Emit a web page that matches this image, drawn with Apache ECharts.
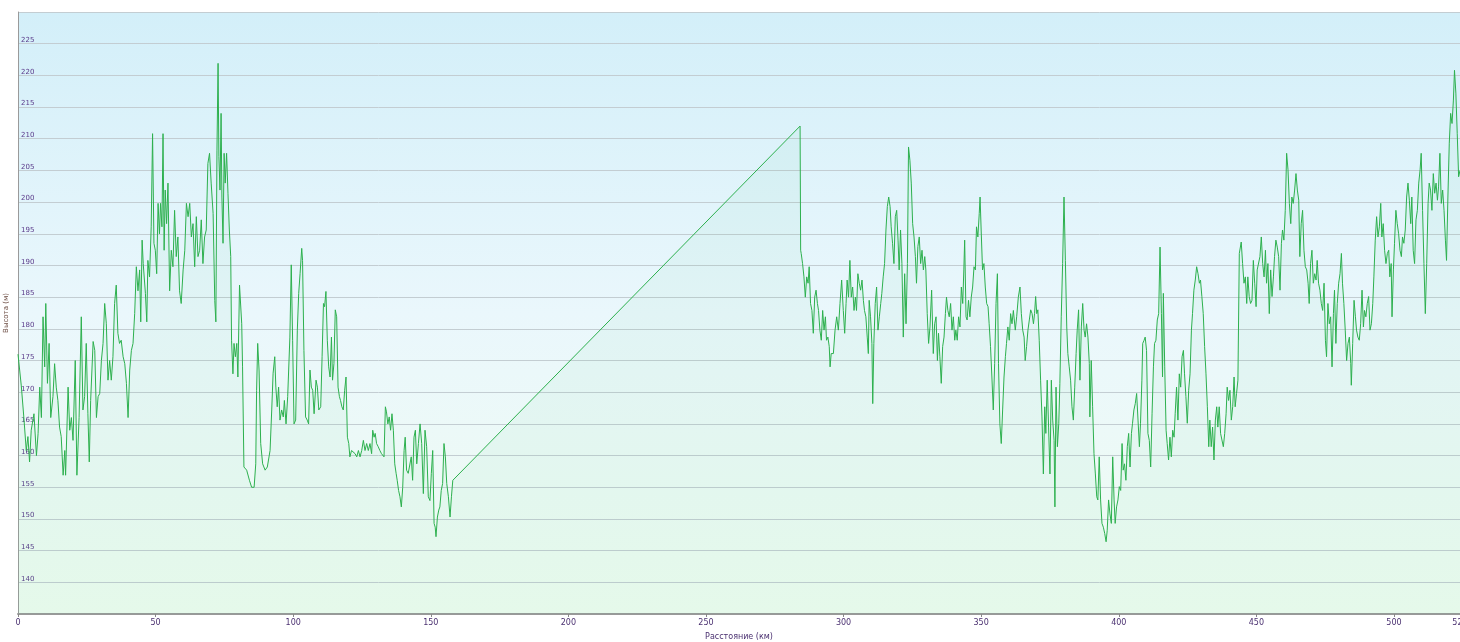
<!DOCTYPE html>
<html>
<head>
<meta charset="utf-8">
<script src="https://cdn.jsdelivr.net/npm/echarts@6/dist/echarts.min.js"></script>
<style>html,body{margin:0;padding:0;background:#fff}#c{width:1460px;height:642px}</style>
</head>
<body>
<div id="c"></div>
<script>
// Elevation profile: [distance km, elevation m]
const seg1 = [[0,176],[1.2,171],[2.2,165.6],[3.0,160.8],[3.6,163],[4.2,159],[4.8,164],[5.8,166.6],[6.7,160],[7.3,163.5],[7.9,170.8],[8.5,166],[9.1,181.9],[9.7,174],[10.1,184],[10.7,171.4],[11.3,177.7],[11.9,166],[12.7,169.3],[13.3,174.5],[13.9,170.8],[14.5,168.7],[15.1,164.5],[15.7,163],[16.4,156.9],[17.0,160.8],[17.3,156.9],[18.2,170.8],[18.8,164],[19.4,166],[20.0,162.4],[20.8,175],[21.4,156.9],[22.2,166],[23.0,181.9],[23.6,167.2],[24.2,169.3],[24.8,177.7],[25.4,166.6],[25.9,159],[26.4,168.7],[27.3,178],[27.9,176.6],[28.5,166],[29.1,169.3],[29.7,169.8],[30.3,175],[30.9,177.7],[31.5,184],[32.1,180.8],[32.7,171.9],[33.3,175],[33.9,171.9],[34.5,175.6],[35.1,184],[35.7,186.9],[36.3,179.3],[36.9,177.7],[37.5,178.2],[38.2,175.6],[38.8,174.5],[39.4,171.4],[40.0,166],[40.6,173.5],[41.2,176.6],[41.8,177.7],[42.4,182.4],[43.0,189.8],[43.6,186],[44.2,189.3],[44.6,181.1],[45.1,194],[45.5,190.3],[46.3,185.6],[46.8,181.1],[47.2,190.8],[47.8,188.2],[48.4,196.1],[48.9,210.8],[49.4,193.5],[49.9,192.4],[50.4,188.7],[50.9,199.8],[51.4,195],[51.8,199.8],[52.3,196.1],[52.7,210.8],[53.1,192.4],[53.5,201.9],[54.0,196.6],[54.5,203],[55.1,186],[55.7,192.4],[56.3,189.8],[56.9,198.7],[57.5,191.4],[58.1,194.5],[58.7,186],[59.3,184],[60.0,189.3],[60.6,192.4],[61.2,199.8],[61.8,197.7],[62.4,199.8],[63.0,194.5],[63.6,196.6],[64.2,189.8],[64.8,197.7],[65.4,191.4],[66.0,192.4],[66.6,197.2],[67.2,190.3],[67.8,194.5],[68.4,195.6],[69.0,206.1],[69.6,207.7],[70.2,203],[70.9,198.2],[71.5,184.5],[71.9,181.1],[72.3,208.2],[72.7,221.9],[73.0,207.2],[73.4,201.9],[73.8,214],[74.1,200.8],[74.5,193.5],[74.9,207.7],[75.3,203],[75.8,207.7],[76.3,201.4],[76.8,195.6],[77.3,191.4],[77.6,178.2],[78.1,172.9],[78.5,177.7],[79.0,175.6],[79.5,177.7],[79.9,172.4],[80.5,186.9]];
const seg2 = [[81.3,180.8],[81.6,174],[82.1,158.2],[83.1,157.7],[84.1,156.1],[84.9,155],[85.8,155],[86.4,158.7],[86.7,170.3],[87.1,177.7],[87.6,173.5],[88.2,161.9],[88.9,158.7],[89.8,157.7],[90.6,158.2],[91.6,160.8],[92.2,167.2],[92.7,173],[93.3,175.6],[93.7,170.8],[94.2,167.7],[94.7,170.8],[95.2,165.6],[95.8,167.2],[96.4,166.1],[96.8,168.7],[97.4,165],[98.0,169.3],[98.8,178.7],[99.3,190.1],[99.8,178.2],[100.3,165],[100.9,165.6],[101.5,179.8],[102.0,185.6],[102.5,188.7],[103.1,192.7],[103.4,190.8],[103.9,176.6],[104.5,166.1],[105.1,165.6],[105.6,165],[106.1,173.5],[106.6,170.8],[107.1,170.3],[107.6,166.6],[108.3,171.9],[108.8,170.8],[109.3,167.2],[110.0,167.7],[110.5,175.6],[111.0,184],[111.4,183.5],[111.9,185.9],[112.4,178.2],[112.9,174],[113.4,172.4],[113.9,178.7],[114.3,171.9],[114.8,174.5],[115.3,183],[115.8,181.9],[116.3,170.8],[116.8,169.3],[117.2,168.7],[117.7,167.7],[118.2,167.2],[118.7,170.3],[119.2,172.4],[119.7,162.9],[120.2,161.9],[120.6,159.8],[121.2,160.8],[121.8,160.8],[122.5,160.3],[123.1,159.8],[123.7,160.8],[124.3,159.8],[124.9,160.8],[125.5,162.4],[126.1,160.8],[126.7,161.9],[127.3,160.8],[127.9,161.9],[128.5,160.3],[128.9,164],[129.4,162.9],[129.8,163.5],[130.3,161.9],[130.9,161.4],[131.5,160.8],[132.1,160.3],[133.0,159.8],[133.5,167.7],[133.9,166.9],[134.4,165],[134.9,166.1],[135.4,164],[135.9,166.6],[136.4,164],[136.9,158.7],[137.4,157.2],[137.8,156.1],[138.3,154.5],[138.8,153.5],[139.3,151.9],[139.8,155],[140.3,160.8],[140.7,162.9],[141.2,157.7],[141.8,157.2],[142.4,157.2],[142.9,159.8],[143.4,156.1],[143.9,162.9],[144.4,164],[144.9,158.7],[145.5,161.9],[146.1,165],[146.7,161.9],[147.3,154],[147.9,164],[148.5,161.4],[149.1,153.5],[149.7,152.9],[150.2,157.2],[150.7,160.8],[151.2,149.3],[151.6,148.7],[151.9,147.2],[152.4,150.3],[152.9,151.4],[153.3,151.9],[153.8,154.5],[154.3,155.6],[154.8,161.9],[155.3,159.8],[155.8,155.6],[156.4,153.5],[157.0,150.3],[157.5,153.5],[158.0,156.1]];
const seg3 = [[284.2,212],[284.4,192.4],[284.6,191.9],[285.1,190.3],[285.6,188.2],[286.1,185],[286.6,188.2],[287.1,187.2],[287.5,189.8],[288.0,184],[288.5,182.9],[289.0,179.3],[289.5,185],[290.0,186.1],[290.5,184],[290.9,182.9],[291.4,179.8],[291.9,178.2],[292.4,182.9],[292.9,179.8],[293.4,181.9],[293.8,178.2],[294.3,178.7],[294.8,177.2],[295.1,174],[295.5,176.1],[296.3,176.1],[296.9,179.8],[297.5,181.9],[298.1,179.8],[298.7,184],[299.3,187.7],[299.9,182.9],[300.4,179.3],[300.9,184],[301.3,187.7],[301.8,185],[302.3,190.8],[302.8,185],[303.3,186.6],[303.8,182.9],[304.3,185],[304.7,182.9],[305.2,188.7],[305.7,187.2],[306.2,186.1],[306.7,187.7],[307.2,184.5],[307.6,182.9],[308.1,181.9],[308.6,178.7],[309.0,176.1],[309.3,184.5],[309.8,181.9],[310.3,177.7],[310.6,168.2],[311.0,177.7],[311.5,184],[312.0,186.6],[312.5,179.8],[313.0,181.9],[313.5,184],[313.9,185.6],[314.4,188.2],[314.9,190.3],[315.4,195.6],[315.9,199.3],[316.4,200.8],[316.9,199.3],[317.3,196.1],[317.8,193.5],[318.3,190.3],[318.8,197.7],[319.3,198.7],[319.8,194],[320.2,189.3],[320.7,195.6],[321.2,190.3],[321.7,178.7],[322.2,188.7],[322.7,180.8],[323.2,190.3],[323.6,208.7],[324.1,206.6],[324.6,203],[325.1,196.6],[325.6,194.5],[326.1,191.4],[326.5,187.2],[327.0,193],[327.5,194.5],[328.0,190.3],[328.5,192.4],[329.0,189.3],[329.5,191.4],[329.9,189.3],[330.4,182.4],[330.9,177.7],[331.4,180.3],[332.0,186.1],[332.6,176.1],[333.1,180.8],[333.6,181.9],[334.1,175],[334.5,179.3],[335.0,175.6],[335.5,171.4],[336.0,177.2],[336.5,178.7],[337.0,182.4],[337.4,185],[337.9,182.9],[338.4,181.9],[338.9,184],[339.4,179.8],[339.9,181.9],[340.4,178.2],[340.8,179.8],[341.3,178.2],[341.8,181.9],[342.3,180.3],[342.8,186.6],[343.3,184],[343.7,189.3],[344.0,194],[344.5,181.9],[344.9,181.4],[345.4,184.5],[345.9,181.9],[346.4,185],[346.9,186.6],[347.4,189.8],[347.9,189.3],[348.3,196.1],[348.8,194.5],[349.3,198.2],[349.6,200.8],[350.0,195.6],[350.5,189.3],[351.0,190.3],[351.5,186.6],[352.0,184],[352.5,183.5],[352.9,180.8],[353.4,177.2],[353.9,172.4],[354.4,167.2],[354.9,174.5],[355.4,184],[355.9,188.7],[356.3,174.5],[356.8,165],[357.3,161.9],[357.8,167.2],[358.3,172.4],[358.8,175.6],[359.2,177.7],[359.7,180.3],[360.2,178.2],[360.7,182.4],[361.2,180.8],[361.7,182.9],[362.4,179.8],[362.9,181.9],[363.5,185],[364.1,186.6]];
const seg4 = [[364.6,182.4],[365.1,179.8],[365.6,178.7],[366.0,175],[366.5,177.2],[367.0,179.8],[367.5,181.4],[368.0,183],[368.5,182.4],[369.0,180.8],[369.4,182.4],[369.8,185.1],[370.2,182.4],[370.6,183],[371.1,178.2],[371.6,171.9],[372.1,166.1],[372.6,157.1],[373.1,167.7],[373.5,163.5],[374.0,171.9],[374.5,164.5],[375.0,157.1],[375.5,171.9],[376.0,165.6],[376.5,162.4],[376.8,151.9],[377.2,170.8],[377.7,161.4],[378.2,165.1],[378.6,171.4],[379.1,181.9],[379.6,190.3],[380.1,200.8],[380.6,190.8],[381.1,180.3],[381.5,176.1],[382.0,174],[382.5,171.9],[383.0,167.7],[383.5,165.6],[384.0,170.8],[384.5,176.1],[384.9,179.8],[385.4,183],[385.9,171.9],[386.4,180.3],[386.9,184],[387.4,179.8],[387.8,178.7],[388.3,180.8],[388.8,178.7],[389.3,174.5],[389.5,166.1],[390.0,175],[390.5,167.7],[391.0,160.3],[391.5,157.1],[392.0,153.5],[392.4,153],[392.9,159.8],[393.4,153],[393.9,149.3],[394.4,148.7],[394.9,147.7],[395.4,146.4],[395.8,148.2],[396.3,153],[396.8,150.8],[397.3,149.3],[397.8,159.8],[398.3,153],[398.7,149.3],[399.2,151.9],[399.7,153],[400.2,155.1],[400.7,154.5],[401.2,161.9],[401.6,157.7],[402.1,158.7],[402.6,156.1],[403.1,161.4],[403.6,163.5],[404.1,158.2],[404.6,163.5],[405.0,165.1],[405.5,167.2],[406.0,168.2],[406.5,169.8],[407.0,165.6],[407.5,161.4],[407.9,165.1],[408.4,171.9],[408.7,177.7],[409.2,178.2],[409.6,178.7],[410.1,176.6],[410.6,163.5],[411.1,162.4],[411.6,158.2],[412.1,166.6],[412.6,174],[413.0,177.7],[413.5,178.2],[414.0,181.4],[414.5,182.4],[415.0,192.9],[415.5,182.4],[415.9,172.4],[416.2,185.6],[416.7,174],[417.2,164],[417.6,161.9],[418.1,159.3],[418.6,162.9],[419.1,159.8],[419.6,164],[420.1,162.9],[420.5,166.6],[421.0,170.8],[421.5,165.6],[422.0,172.9],[422.5,170.8],[423.0,175.6],[423.5,176.6],[423.9,172.9],[424.4,169.3],[424.9,165.1],[425.4,170.3],[425.9,172.9],[426.4,179.8],[426.8,182.4],[427.3,186.1],[427.8,187.7],[428.3,189.8],[428.8,188.7],[429.3,187.2],[429.7,187.7],[430.2,185.1],[430.7,182.4],[431.2,177.2],[431.7,172.9],[432.2,167.7],[432.7,161.4],[433.1,165.6],[433.6,161.4],[434.1,164.5],[434.6,159.3],[435.1,165.6],[435.6,167.7],[436.0,164.5],[436.5,167.7],[437.0,163.5],[437.5,163.5],[438.0,161.4],[438.5,163.5],[439.0,166.6],[439.4,170.8],[439.9,168.7],[440.4,170.3],[440.9,165.6],[441.4,167.7],[441.9,172.4],[442.3,167.7],[442.8,169.8],[443.3,171.9],[443.8,191.9]];
const seg5 = [[444.5,193.7],[445.0,190.3],[445.5,187.2],[446.0,188.2],[446.5,184],[446.9,188.2],[447.4,185.1],[447.9,184],[448.4,184.5],[448.9,190.8],[449.4,187.2],[449.9,183.5],[450.3,189.3],[450.8,189.3],[451.3,191.4],[451.8,194.5],[452.3,190.3],[452.8,188.2],[453.3,192.4],[453.7,187.2],[454.2,190.3],[454.7,182.4],[455.2,189.3],[455.7,185.1],[456.2,188.2],[456.6,191.4],[457.1,194],[457.6,192.9],[458.1,191.4],[458.6,186.1],[459.1,193.5],[459.5,195.6],[460.0,194],[460.5,198.7],[461.0,207.7],[461.5,205.1],[462.0,199.8],[462.5,196.6],[462.9,200.8],[463.4,199.8],[463.9,201.9],[464.4,204.5],[464.9,201.9],[465.4,200.3],[465.8,191.4],[466.3,196.6],[466.8,198.7],[467.3,192.4],[467.8,189.8],[468.3,189.3],[468.8,187.2],[469.2,184],[469.7,190.3],[470.2,192.4],[470.7,187.2],[471.2,188.7],[471.7,187.7],[472.1,190.8],[472.6,187.2],[473.1,186.1],[473.6,184],[474.1,182.9],[474.6,187.2],[475.1,178.2],[475.5,175.6],[476.0,184],[476.5,180.8],[477.0,181.9],[477.5,174],[478.0,182.4],[478.4,186.1],[478.9,177.7],[479.4,184],[479.9,187.2],[480.4,188.7],[480.9,191.9],[481.3,187.2],[481.8,184],[482.3,179.8],[482.8,175],[483.3,177.7],[483.8,178.7],[484.3,174.5],[484.5,171.1],[485.0,177.7],[485.5,184.5],[486.0,181.9],[486.4,179.8],[486.9,178.7],[487.4,178.2],[487.9,180.8],[488.4,186.1],[488.9,180.3],[489.3,182.9],[489.8,181.9],[490.3,184],[490.8,185.1],[491.3,179.8],[491.8,180.8],[492.3,184],[492.7,188.2],[493.2,194],[493.7,197.7],[494.2,194.5],[494.7,196.1],[495.2,199.8],[495.6,194.5],[496.1,196.6],[496.6,192.4],[497.1,190.3],[497.6,191.9],[498.1,192.4],[498.5,188.2],[499.0,190.3],[499.3,181.9],[499.8,189.3],[500.2,193.5],[500.7,198.7],[501.2,196.6],[501.7,195],[502.2,192.4],[502.7,191.4],[503.1,194.5],[503.6,193.5],[504.1,195.6],[504.6,200.8],[505.1,203],[505.6,200.3],[506.1,196.6],[506.5,200.8],[507.0,192.4],[507.5,190.3],[508.0,197.2],[508.5,198.7],[509.0,203],[509.5,205.1],[509.9,207.7],[510.4,198.7],[510.9,190.3],[511.4,182.4],[511.9,190.3],[512.4,199.8],[512.8,203],[513.3,201.9],[513.8,198.7],[514.3,204.5],[514.8,201.4],[515.3,203],[515.8,200.3],[516.2,202.4],[516.7,207.7],[517.2,199.8],[517.7,201.9],[518.2,198.7],[518.7,194],[519.1,190.8],[519.6,200.8],[520.1,209.3],[520.6,214],[521.1,212.4],[521.6,216.1],[522.0,220.8],[522.5,217.2],[523.0,210.8],[523.5,204],[524.0,205]];
const xTicksInterval = 50;
const yMin = 135, yMax = 230, yStep = 5;
const xName = 'Расстояние (км)';
const yName = 'Высота (м)';

const profile = [].concat(seg1, seg2, seg3, seg4, seg5);

const chart = echarts.init(document.getElementById('c'));
chart.setOption({
  animation: false,
  grid: {
    left: 18, right: 0, top: 12, bottom: 28,
    outerBoundsMode: 'none', containLabel: false,
    show: true, borderWidth: 0,
    backgroundColor: new echarts.graphic.LinearGradient(0, 0, 0, 1, [
      {offset: 0, color: '#d3eff9'},
      {offset: 0.5, color: '#eaf7fc'},
      {offset: 1, color: '#effcf1'}
    ])
  },
  xAxis: {
    type: 'value', min: 0, max: 524, interval: xTicksInterval,
    name: xName, nameLocation: 'middle', nameGap: 19,
    nameTextStyle: {fontSize: 8, color: '#4a3070', fontFamily: 'DejaVu Sans'},
    axisLine: {show: true, lineStyle: {color: '#999999', width: 2}},
    axisTick: {show: true, length: 3, lineStyle: {color: '#888888'}},
    axisLabel: {fontSize: 8, color: '#4a3070', margin: 5, fontFamily: 'DejaVu Sans'},
    splitLine: {show: false}
  },
  yAxis: {
    type: 'value', min: yMin, max: yMax, interval: yStep,
    name: yName, nameLocation: 'middle', nameGap: 6, nameRotate: 90,
    nameTextStyle: {fontSize: 7, color: '#6a4a40', fontFamily: 'DejaVu Sans'},
    axisLine: {show: true, lineStyle: {color: '#9a9a9a', width: 1}},
    axisTick: {show: false},
    axisLabel: {
      inside: true, fontSize: 7, color: '#5a3a8a', margin: 3, verticalAlign: 'bottom',
      fontFamily: 'DejaVu Sans', showMinLabel: false, showMaxLabel: false
    },
    splitLine: {show: true, lineStyle: {color: '#c3cdd2', width: 1}}
  },
  series: [{
    type: 'line', data: profile, showSymbol: false, symbol: 'none',
    lineStyle: {color: '#2db04e', width: 1},
    areaStyle: {color: 'rgba(60,200,110,0.07)'}
  }]
});
</script>
</body>
</html>
